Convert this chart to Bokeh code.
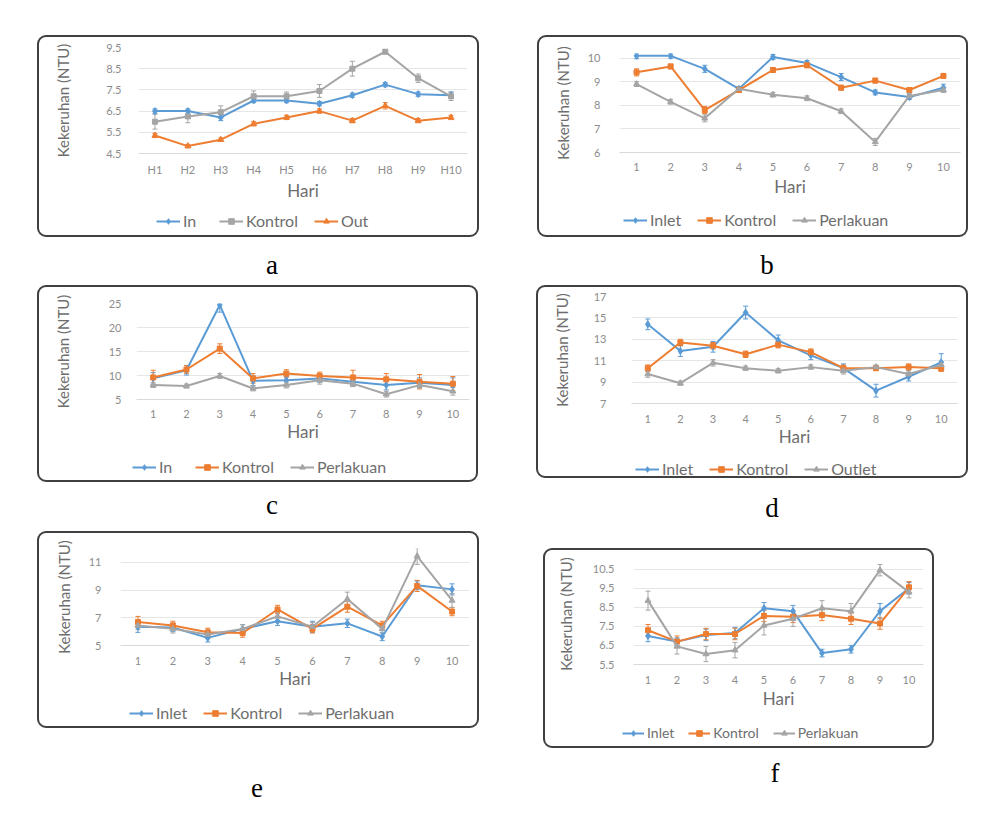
from bokeh.plotting import figure
from bokeh.models import (FactorRange, Range1d, FixedTicker, Legend, LegendItem,
                          Whisker, ColumnDataSource, TeeHead, Spacer, Div)
from bokeh.layouts import row, column
from bokeh.embed import file_html
from bokeh.resources import INLINE

BLUE, ORANGE, GRAY = "#5B9BD5", "#ED7D31", "#A5A5A5"

# ---------------- data ----------------
hari_h = ["H1", "H2", "H3", "H4", "H5", "H6", "H7", "H8", "H9", "H10"]
hari_n = ["1", "2", "3", "4", "5", "6", "7", "8", "9", "10"]

# panel a
a_in = [6.5, 6.5, 6.2, 7.0, 7.0, 6.85, 7.25, 7.75, 7.3, 7.25]
a_in_err = [0.1, 0.1, 0.15, 0.1, 0.1, 0.1, 0.1, 0.1, 0.1, 0.15]
a_kontrol = [6.0, 6.25, 6.45, 7.2, 7.2, 7.45, 8.5, 9.3, 8.05, 7.2]
a_kontrol_err = [0.35, 0.3, 0.3, 0.25, 0.2, 0.3, 0.35, 0.1, 0.2, 0.2]
a_out = [5.35, 4.85, 5.15, 5.9, 6.2, 6.5, 6.05, 6.75, 6.05, 6.2]
a_out_err = [0.1, 0.08, 0.08, 0.1, 0.1, 0.1, 0.1, 0.15, 0.1, 0.1]
a_yticks = [4.5, 5.5, 6.5, 7.5, 8.5, 9.5]

# panel b
b_inlet = [10.1, 10.1, 9.55, 8.7, 10.05, 9.8, 9.2, 8.55, 8.35, 8.75]
b_inlet_err = [0.12, 0.1, 0.15, 0.1, 0.1, 0.1, 0.15, 0.1, 0.1, 0.15]
b_kontrol = [9.4, 9.65, 7.8, 8.65, 9.5, 9.7, 8.75, 9.05, 8.65, 9.25]
b_kontrol_err = [0.15, 0.1, 0.15, 0.1, 0.1, 0.1, 0.1, 0.1, 0.1, 0.1]
b_perlakuan = [8.9, 8.15, 7.45, 8.7, 8.45, 8.3, 7.75, 6.45, 8.4, 8.65]
b_perlakuan_err = [0.1, 0.1, 0.15, 0.1, 0.1, 0.1, 0.1, 0.15, 0.1, 0.1]
b_yticks = [6, 7, 8, 9, 10]

# panel c
c_in = [9.4, 11.1, 24.7, 8.9, 9.0, 9.4, 8.7, 8.0, 8.5, 8.0]
c_in_err = [1.2, 1.0, 1.5, 1.0, 0.8, 0.8, 1.0, 1.0, 1.0, 1.5]
c_kontrol = [9.6, 11.25, 15.6, 9.4, 10.4, 9.9, 9.6, 9.2, 8.7, 8.3]
c_kontrol_err = [1.5, 0.8, 1.0, 1.0, 0.8, 0.8, 1.5, 1.2, 1.5, 1.5]
c_perlakuan = [8.0, 7.8, 9.9, 7.3, 8.0, 9.0, 8.3, 6.1, 8.0, 6.7]
c_perlakuan_err = [0.5, 0.4, 0.5, 0.5, 0.6, 0.8, 0.6, 0.6, 0.6, 0.8]
c_yticks = [5, 10, 15, 20, 25]

# panel d
d_inlet = [14.4, 11.9, 12.3, 15.5, 12.9, 11.5, 10.3, 8.2, 9.5, 10.85]
d_inlet_err = [0.5, 0.5, 0.5, 0.6, 0.5, 0.4, 0.4, 0.6, 0.4, 0.8]
d_kontrol = [10.3, 12.7, 12.4, 11.6, 12.5, 11.8, 10.3, 10.3, 10.4, 10.3]
d_kontrol_err = [0.3, 0.3, 0.3, 0.3, 0.3, 0.3, 0.3, 0.2, 0.3, 0.3]
d_outlet = [9.75, 8.9, 10.8, 10.3, 10.05, 10.4, 10.05, 10.4, 9.75, 10.6]
d_outlet_err = [0.3, 0.2, 0.3, 0.2, 0.2, 0.2, 0.3, 0.2, 0.3, 0.3]
d_yticks = [7, 9, 11, 13, 15, 17]

# panel e
e_inlet = [6.35, 6.3, 5.55, 6.2, 6.75, 6.35, 6.6, 5.65, 9.35, 9.05]
e_inlet_err = [0.4, 0.3, 0.3, 0.3, 0.3, 0.4, 0.3, 0.3, 0.3, 0.4]
e_kontrol = [6.7, 6.45, 5.95, 5.9, 7.6, 6.2, 7.8, 6.45, 9.3, 7.45]
e_kontrol_err = [0.4, 0.3, 0.3, 0.3, 0.3, 0.3, 0.4, 0.3, 0.4, 0.3]
e_perlakuan = [6.45, 6.2, 5.8, 6.2, 7.1, 6.35, 8.35, 6.2, 11.45, 8.25]
e_perlakuan_err = [0.3, 0.3, 0.3, 0.3, 0.3, 0.3, 0.5, 0.3, 0.6, 0.5]
e_yticks = [5, 7, 9, 11]

# panel f
f_inlet = [7.0, 6.7, 7.05, 7.15, 8.45, 8.3, 6.1, 6.3, 8.3, 9.5]
f_inlet_err = [0.3, 0.2, 0.3, 0.3, 0.3, 0.3, 0.2, 0.2, 0.4, 0.3]
f_kontrol = [7.3, 6.7, 7.1, 7.1, 8.05, 8.0, 8.1, 7.9, 7.65, 9.55]
f_kontrol_err = [0.3, 0.3, 0.3, 0.3, 0.3, 0.3, 0.3, 0.3, 0.3, 0.3]
f_perlakuan = [8.85, 6.45, 6.05, 6.25, 7.55, 7.9, 8.45, 8.3, 10.45, 9.3]
f_perlakuan_err = [0.5, 0.4, 0.4, 0.4, 0.5, 0.4, 0.4, 0.4, 0.3, 0.3]
f_yticks = [5.5, 6.5, 7.5, 8.5, 9.5, 10.5]

FONT = "Lato"
TICK_COLOR = "#8c8c8c"
TITLE_COLOR = "#6e6e6e"
MARKERS = ["diamond", "square", "triangle"]
MSIZE = [7, 5, 6]


def chart(days, series, y_lo, y_hi, yticks, geo):
    """One boxed line chart: plot area on top, legend strip underneath."""
    w, h, fl, fr, ft, fb = geo["size"]
    leg_h = geo["legend_h"]
    p = figure(width=w, height=h - leg_h, title=None,
               x_range=FactorRange(*days, range_padding=0),
               y_range=Range1d(y_lo, y_hi), output_backend="svg",
               toolbar_location=None, min_border_left=fl, min_border_right=fr,
               min_border_top=ft, min_border_bottom=fb,
               background_fill_color=None, border_fill_color=None)
    p.frame_align = False
    p.outline_line_color = None
    p.xgrid.visible = False
    p.ygrid.grid_line_color = "#e6e6e6"
    p.ygrid.grid_line_width = 1

    ya = p.yaxis[0]
    ya.ticker = FixedTicker(ticks=yticks)
    ya.axis_line_color = None
    ya.major_tick_line_color = None
    ya.minor_tick_line_color = None
    ya.major_label_text_font = FONT
    ya.major_label_text_font_size = "11px"
    ya.major_label_text_color = TICK_COLOR
    ya.major_label_standoff = geo["ystand"][0]
    ya.axis_label = "Kekeruhan (NTU)"
    ya.axis_label_text_font = FONT
    ya.axis_label_text_font_size = "15px"
    ya.axis_label_text_font_style = "normal"
    ya.axis_label_text_color = TITLE_COLOR
    ya.axis_label_standoff = geo["ystand"][1]

    xa = p.xaxis[0]
    xa.axis_line_color = "#d9d9d9"
    xa.major_tick_line_color = None
    xa.minor_tick_line_color = None
    xa.major_label_text_font = FONT
    xa.major_label_text_font_size = "11px"
    xa.major_label_text_color = TICK_COLOR
    xa.major_label_standoff = geo["xstand"][0]
    xa.axis_label = "Hari"
    xa.axis_label_text_font = FONT
    xa.axis_label_text_font_size = "17px"
    xa.axis_label_text_font_style = "normal"
    xa.axis_label_text_color = TITLE_COLOR
    xa.axis_label_standoff = geo["xstand"][1]

    # legend strip; its key renderers sit outside the strip's visible y-range
    lp = figure(width=w, height=leg_h, title=None, output_backend="svg",
                x_range=FactorRange(*days, range_padding=0),
                y_range=Range1d(-2, -1),
                toolbar_location=None, x_axis_type=None, y_axis_type=None,
                min_border=0, background_fill_color=None, border_fill_color=None)
    lp.frame_align = False
    lp.outline_line_color = None
    lp.grid.visible = False

    items = []
    for i, (name, color, vals, errs) in enumerate(series):
        src = ColumnDataSource(dict(
            x=days, y=vals,
            upper=[v + e for v, e in zip(vals, errs)],
            lower=[v - e for v, e in zip(vals, errs)]))
        wk = Whisker(base="x", upper="upper", lower="lower", source=src,
                     line_color=color, line_width=1,
                     upper_head=TeeHead(size=5, line_color=color, line_width=1),
                     lower_head=TeeHead(size=5, line_color=color, line_width=1))
        p.add_layout(wk)
        p.line("x", "y", source=src, line_color=color, line_width=2)
        p.scatter("x", "y", source=src, marker=MARKERS[i], size=MSIZE[i],
                  fill_color=color, line_color=color)
        key_src = ColumnDataSource(dict(x=days, y=vals))
        key_line = lp.line("x", "y", source=key_src, line_color=color, line_width=2)
        key_mark = lp.scatter("x", "y", source=key_src, marker=MARKERS[i],
                              size=MSIZE[i], fill_color=color, line_color=color)
        items.append(LegendItem(label=name, renderers=[key_line, key_mark]))

    fs, gw, sp = geo["legend_style"]
    lg = Legend(items=items, orientation="horizontal", location=geo["legend_at"],
                border_line_color=None, background_fill_alpha=0, padding=0,
                margin=0, spacing=sp, glyph_width=gw, glyph_height=14,
                label_standoff=3, label_height=14,
                label_text_font=FONT, label_text_font_size=fs,
                label_text_color=TITLE_COLOR)
    lp.add_layout(lg, "center")

    return column(p, lp, styles={"outline": "2px solid #404040",
                                 "outline-offset": "-2px",
                                 "border-radius": "9px"})


def letter(t):
    return Div(text=('<div style="width:40px;text-align:center;font-family:'
                     "'Liberation Serif';font-size:27px;line-height:27px;"
                     f'color:#000">{t}</div>'), width=40, height=27, margin=0)


LG = ("16px", 24, 16)
box_a = chart(hari_h, [("In", BLUE, a_in, a_in_err),
                       ("Kontrol", GRAY, a_kontrol, a_kontrol_err),
                       ("Out", ORANGE, a_out, a_out_err)],
              4.5, 9.5, a_yticks,
              dict(size=(442, 202, 101, 12, 12, 49), legend_h=34, legend_at=(119, 7),
                   ystand=(11, 31), xstand=(3, 1), legend_style=LG))
box_b = chart(hari_n, [("Inlet", BLUE, b_inlet, b_inlet_err),
                       ("Kontrol", ORANGE, b_kontrol, b_kontrol_err),
                       ("Perlakuan", GRAY, b_perlakuan, b_perlakuan_err)],
              6, 10.2, b_yticks,
              dict(size=(431, 202, 82, 8, 18, 49), legend_h=36, legend_at=(86, 8),
                   ystand=(13, 13), xstand=(4, 2), legend_style=LG))
box_c = chart(hari_n, [("In", BLUE, c_in, c_in_err),
                       ("Kontrol", ORANGE, c_kontrol, c_kontrol_err),
                       ("Perlakuan", GRAY, c_perlakuan, c_perlakuan_err)],
              5, 25, c_yticks,
              dict(size=(441, 197, 99, 9, 18, 51), legend_h=32, legend_at=(95, 6),
                   ystand=(9, 34), xstand=(4, 0), legend_style=LG))
box_d = chart(hari_n, [("Inlet", BLUE, d_inlet, d_inlet_err),
                       ("Kontrol", ORANGE, d_kontrol, d_kontrol_err),
                       ("Outlet", GRAY, d_outlet, d_outlet_err)],
              7, 17, d_yticks,
              dict(size=(432, 193, 95, 11, 11, 57), legend_h=18, legend_at=(99, 0),
                   ystand=(19, 20), xstand=(5, 0), legend_style=LG))
box_e = chart(hari_n, [("Inlet", BLUE, e_inlet, e_inlet_err),
                       ("Kontrol", ORANGE, e_kontrol, e_kontrol_err),
                       ("Perlakuan", GRAY, e_perlakuan, e_perlakuan_err)],
              5, 12, e_yticks,
              dict(size=(442, 197, 83, 10, 17, 51), legend_h=32, legend_at=(92, 6),
                   ystand=(13, 13), xstand=(5, 0), legend_style=LG))
box_f = chart(hari_n, [("Inlet", BLUE, f_inlet, f_inlet_err),
                       ("Kontrol", ORANGE, f_kontrol, f_kontrol_err),
                       ("Perlakuan", GRAY, f_perlakuan, f_perlakuan_err)],
              5.5, 10.8, f_yticks,
              dict(size=(391, 200, 90, 11, 15, 52), legend_h=32, legend_at=(79, 7),
                   ystand=(13, 15), xstand=(5, 1), legend_style=("14px", 22, 14)))

page = column(
    Spacer(height=35),
    row(Spacer(width=37), box_a, Spacer(width=58), box_b),
    row(Spacer(width=252), column(Spacer(height=15), letter("a"), Spacer(height=6)),
        Spacer(width=455), column(Spacer(height=15), letter("b"), Spacer(height=6))),
    row(Spacer(width=37), box_c, Spacer(width=58), box_d),
    row(Spacer(width=252), column(Spacer(height=10), letter("c"), Spacer(height=12)),
        Spacer(width=460), column(Spacer(height=13), letter("d"), Spacer(height=9))),
    row(Spacer(width=37),
        column(box_e, Spacer(height=47), row(Spacer(width=200), letter("e"))),
        Spacer(width=64),
        column(Spacer(height=17), box_f, Spacer(height=12), row(Spacer(width=212), letter("f")))),
)

open("out.html", "w").write(file_html(page, INLINE))
